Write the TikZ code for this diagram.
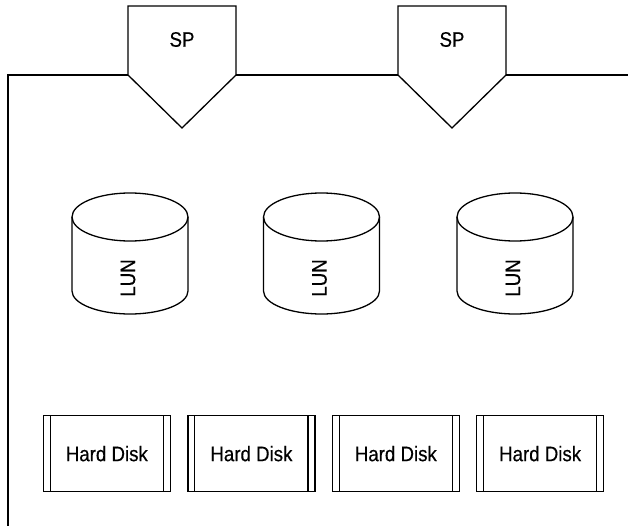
\documentclass[tikz,border=0pt]{standalone}
\usepackage{fontspec}
\setmainfont{Liberation Sans}[FakeStretch=0.89,FakeBold=0.4]
\begin{document}
\begin{tikzpicture}[x=1pt,y=-1pt,
  wire/.style={line width=1.3pt,line join=miter},
  lbl/.style={font=\fontsize{21}{24}\selectfont,inner sep=0pt},
  disk/.style={draw,line width=1.3pt,minimum width=127pt,minimum height=76pt,
    inner sep=0pt,font=\fontsize{21}{24}\selectfont}]
\useasboundingbox (0,0) rectangle (628,526);

% storage processors
\foreach \n/\cx in {1/182,2/452}{
  \draw[wire] (\cx-54,6) -- (\cx+54,6) -- (\cx+54,75) -- (\cx,128) -- (\cx-54,75) -- cycle;
  \node[lbl] (sp\n) at (\cx,39.5) {SP};
  \coordinate (spl\n) at (\cx-54,75);
  \coordinate (spr\n) at (\cx+54,75);
}

% backplane bus
\coordinate (busbot) at (8,526);
\coordinate (buscorner) at (8,75);
\coordinate (busend) at (628,75);
\draw[wire] (busbot) -- (buscorner) -- (spl1);
\draw[wire] (spr1) -- (spl2);
\draw[wire] (spr2) -- (busend);

% logical units
\foreach \n/\cx in {1/130,2/321.5,3/515}{
  \draw[wire] (\cx,217) ellipse[x radius=58,y radius=24];
  \draw[wire] (\cx-58,217) -- (\cx-58,291)
    arc[start angle=180,end angle=0,x radius=58,y radius=23] -- (\cx+58,217);
  \node[lbl,rotate=90] (lun\n) at (\cx-2,278) {LUN};
}

% physical disks
\foreach \n/\lx in {1/42.7,2/187.3,3/331.7,4/476}{
  \node[disk,anchor=north west] (hd\n) at (\lx,415) {Hard Disk};
  \draw[wire] ([xshift=7.5pt]hd\n.north west) -- ([xshift=7.5pt]hd\n.south west);
  \draw[wire] ([xshift=-7.5pt]hd\n.north east) -- ([xshift=-7.5pt]hd\n.south east);
}
\end{tikzpicture}
\end{document}
